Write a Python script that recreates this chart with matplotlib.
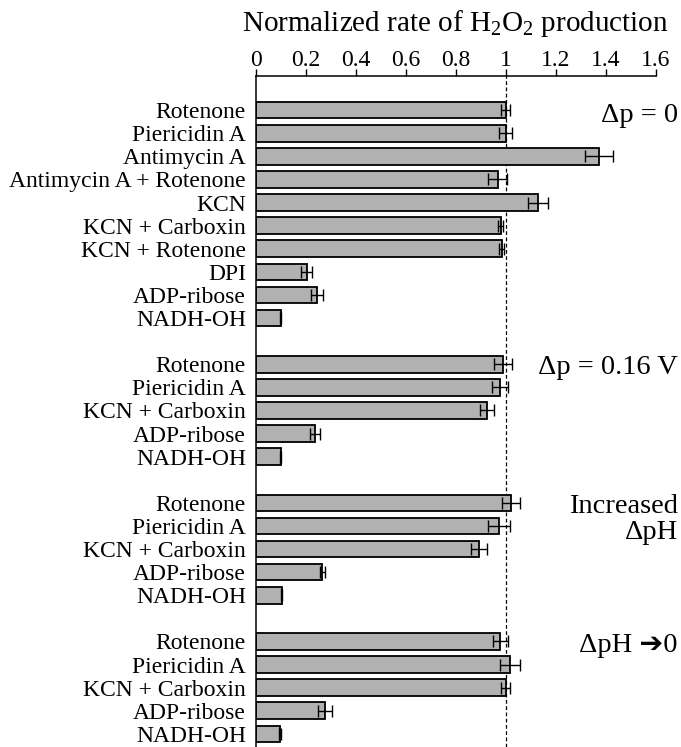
import numpy as np
import matplotlib
matplotlib.use("Agg")
import matplotlib.pyplot as plt

plt.rcParams['font.family'] = ['Liberation Serif', 'DejaVu Sans']
plt.rcParams['mathtext.fontset'] = 'custom'
plt.rcParams['mathtext.rm'] = 'Liberation Serif'
plt.rcParams['mathtext.it'] = 'Liberation Serif:italic'

# group 1: delta p = 0
labels_g1 = ["Rotenone", "Piericidin A", "Antimycin A", "Antimycin A + Rotenone",
             "KCN", "KCN + Carboxin", "KCN + Rotenone", "DPI", "ADP-ribose", "NADH-OH"]
values_g1 = [1.00, 1.00, 1.373, 0.968, 1.129, 0.98, 0.984, 0.204, 0.245, 0.10]
errors_g1 = [0.018, 0.027, 0.055, 0.037, 0.041, 0.010, 0.010, 0.023, 0.023, 0.003]

labels_short = ["Rotenone", "Piericidin A", "KCN + Carboxin", "ADP-ribose", "NADH-OH"]

# group 2: delta p = 0.16 V
values_g2 = [0.99, 0.978, 0.925, 0.238, 0.10]
errors_g2 = [0.035, 0.032, 0.029, 0.021, 0.003]

# group 3: increased delta pH
values_g3 = [1.022, 0.974, 0.894, 0.266, 0.104]
errors_g3 = [0.037, 0.043, 0.033, 0.010, 0.003]

# group 4: delta pH -> 0
values_g4 = [0.978, 1.018, 1.00, 0.278, 0.097]
errors_g4 = [0.030, 0.039, 0.019, 0.028, 0.003]

# right-hand condition labels and their row positions
cond_text = ["\u0394p = 0", "\u0394p = 0.16 V", "Increased", "\u0394pH", "\u0394pH \u27940"]
cond_rows = [0.22, 11.13, 17.14, 18.3, 23.16]

groups = [(labels_g1, values_g1, errors_g1),
          (labels_short, values_g2, errors_g2),
          (labels_short, values_g3, errors_g3),
          (labels_short, values_g4, errors_g4)]

fig = plt.figure(figsize=(6.81, 7.47), dpi=100)
ax = fig.add_axes([0.3755, 0.0, 0.5873, 0.898])

pos = 0
ytick_pos, ytick_lab = [], []
for labs, vals, errs in groups:
    y = np.arange(pos, pos + len(vals))
    ax.barh(y, vals, height=0.72, color="#b1b1b1", edgecolor="black", linewidth=1.3, zorder=2)
    ax.errorbar(vals, y, xerr=errs, fmt="none", ecolor="black", elinewidth=1.0,
                capsize=4.3, capthick=1.0, zorder=3)
    ytick_pos += list(y)
    ytick_lab += labs
    pos += len(vals) + 1

ax.axvline(1.0, color="black", linestyle=(0, (3, 2)), linewidth=0.9, zorder=1)

ax.set_xlim(0, 1.6)
ax.set_ylim(27.57, -1.47)
ax.set_xticks(np.arange(0, 1.61, 0.2))
ax.set_xticklabels(["0", "0.2", "0.4", "0.6", "0.8", "1", "1.2", "1.4", "1.6"])
ax.xaxis.tick_top()
ax.tick_params(axis="x", direction="out", length=5, width=1, labelsize=17, pad=-1.2)
ax.set_yticks(ytick_pos)
ax.set_yticklabels(ytick_lab, fontsize=17)
ax.tick_params(axis="y", length=0, pad=7)
ax.text(0.5, 1.0783, "Normalized rate of H$_2$O$_2$ production", transform=ax.transAxes,
        ha="center", va="center", fontsize=21)

for s in ["right", "bottom"]:
    ax.spines[s].set_visible(False)
ax.spines["top"].set_linewidth(1.1)
ax.spines["left"].set_linewidth(1.1)

xr = 1.6 + (678 - 655.7) / 250.0
for t, ty in zip(cond_text, cond_rows):
    ax.text(xr, ty, t, ha="right", va="center", fontsize=20.5, clip_on=False)

fig.savefig("out.png", dpi=100)
